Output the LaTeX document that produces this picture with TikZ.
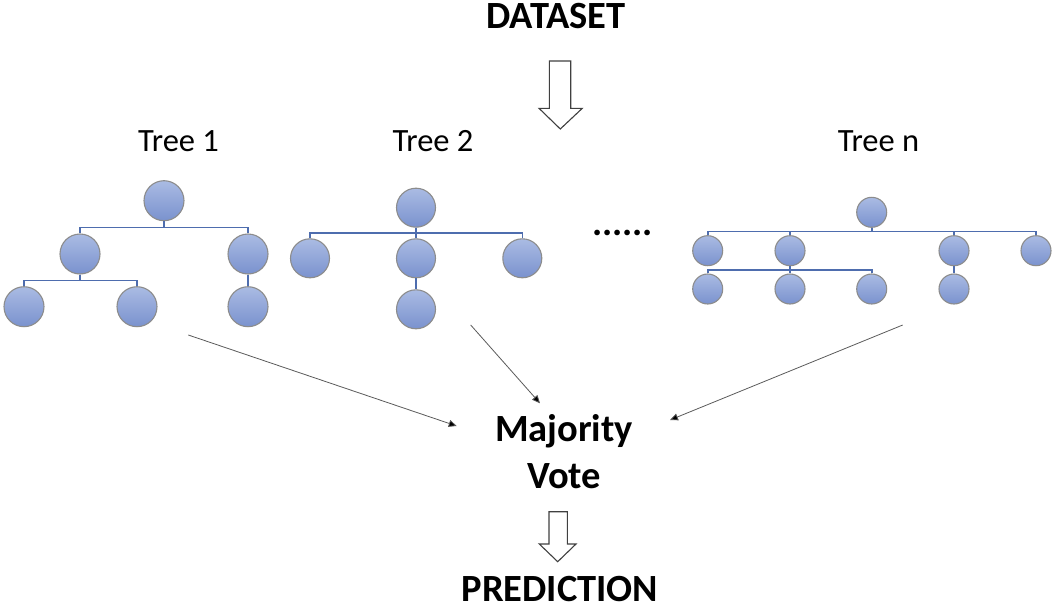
\documentclass[tikz,border=0pt]{standalone}
\usepackage{fontspec}
\setmainfont{Carlito}
\usetikzlibrary{calc,arrows.meta}

\definecolor{nodetop}{HTML}{AABBE3}
\definecolor{nodebot}{HTML}{7A92CE}
\definecolor{nodeedge}{HTML}{8C8C8C}
\definecolor{branch}{HTML}{4E6DAE}
\definecolor{vote}{HTML}{5A5A5A}

\tikzset{
  leaf/.style={circle, draw=nodeedge, line width=1.1pt, top color=nodetop,
    bottom color=nodebot, minimum size=#1, inner sep=0pt},
  leaf/.default=40pt,
  small/.style={leaf=30pt},
  treeline/.style={draw=branch, line width=1.6pt},
  elbow/.style={to path={(\tikztostart) |- ($(\tikztostart)!0.5!(\tikztotarget)$)
    -| (\tikztotarget)}},
  treelabel/.style={anchor=base, font=\fontsize{32.5}{38}\selectfont, inner sep=0pt},
  heading/.style={anchor=base, font=\fontsize{38.5}{45}\selectfont\bfseries, inner sep=0pt},
  voteline/.style={draw=vote, line width=0.8pt,
    -{Triangle[length=8pt,width=7pt,fill=black]}},
  blockarrow/.style={draw=black!75, line width=1.1pt, fill=white, line join=miter}
}

\begin{document}
\begin{tikzpicture}[x=1pt, y=-1pt]
\useasboundingbox (0,0) rectangle (1052,610);

% headings
\node[heading] (data) at (556,28.3) {DATASET};
\node[heading] (maj) at (564,441.7) {Majority};
\node[heading] (vote) at (564,488) {Vote};
\node[heading] (pred) at (560,601.5) {PREDICTION};

% hollow arrow under the dataset
\draw[blockarrow] (549.3,61) -- (570.7,61) -- (570.7,108.3) -- (582.3,108.3)
  -- (560.3,129) -- (539,108.3) -- (549.3,108.3) -- cycle;
% hollow arrow under the vote
\draw[blockarrow] (549,511.7) -- (567.3,511.7) -- (567.3,544) -- (576,544)
  -- (557.7,561.7) -- (539.3,544) -- (549,544) -- cycle;

% tree labels
\node[treelabel] (t1) at (178.5,151.7) {Tree 1};
\node[treelabel] (t2) at (433,151.7) {Tree 2};
\node[treelabel] (tn) at (878.5,151.7) {Tree n};
\node[anchor=base, font=\fontsize{38}{40}\selectfont\bfseries, inner sep=0pt] (dots) at (622.5,235) {......};

% Tree 1
\node[leaf] (a) at (164,200.7) {};
\node[leaf] (a1) at (80,254) {};
\node[leaf] (a2) at (248,254) {};
\node[leaf] (a11) at (24,306.7) {};
\node[leaf] (a12) at (137,306.7) {};
\node[leaf] (a21) at (248,306.7) {};
\draw[treeline] (a.south) to[elbow] (a1.north);
\draw[treeline] (a.south) to[elbow] (a2.north);
\draw[treeline] (a1.south) to[elbow] (a11.north);
\draw[treeline] (a1.south) to[elbow] (a12.north);
\draw[treeline] (a2.south) -- (a21.north);

% Tree 2
\node[leaf=39pt] (b) at (416,207.7) {};
\node[leaf=39pt] (b1) at (310,258.3) {};
\node[leaf=39pt] (b2) at (416,258.3) {};
\node[leaf=39pt] (b3) at (522.3,258.3) {};
\node[leaf=39pt] (b21) at (416,309.3) {};
\draw[treeline] (b.south) to[elbow] (b1.north);
\draw[treeline] (b.south) -- (b2.north);
\draw[treeline] (b.south) to[elbow] (b3.north);
\draw[treeline] (b2.south) -- (b21.north);

% Tree n
\node[small] (c) at (871.7,212.3) {};
\node[small] (c1) at (707.7,250.7) {};
\node[small] (c2) at (790,250.7) {};
\node[small] (c3) at (954,250.7) {};
\node[small] (c4) at (1036,250.7) {};
\node[small] (c21) at (707.7,289) {};
\node[small] (c22) at (790,289) {};
\node[small] (c23) at (871.7,289) {};
\node[small] (c31) at (954,289) {};
\draw[treeline] (c.south) to[elbow] (c1.north);
\draw[treeline] (c.south) to[elbow] (c2.north);
\draw[treeline] (c.south) to[elbow] (c3.north);
\draw[treeline] (c.south) to[elbow] (c4.north);
\draw[treeline] (c2.south) to[elbow] (c21.north);
\draw[treeline] (c2.south) -- (c22.north);
\draw[treeline] (c2.south) to[elbow] (c23.north);
\draw[treeline] (c3.south) -- (c31.north);

% votes flowing into the majority vote
\coordinate (s1) at (188.3,335);
\coordinate (s2) at (470.7,325);
\coordinate (s3) at (902.7,325);
\coordinate (e1) at (456.7,426);
\coordinate (e2) at (540,403.3);
\coordinate (e3) at (670,420);
\draw[voteline] (s1) -- (e1);
\draw[voteline] (s2) -- (e2);
\draw[voteline] (s3) -- (e3);
\end{tikzpicture}
\end{document}
